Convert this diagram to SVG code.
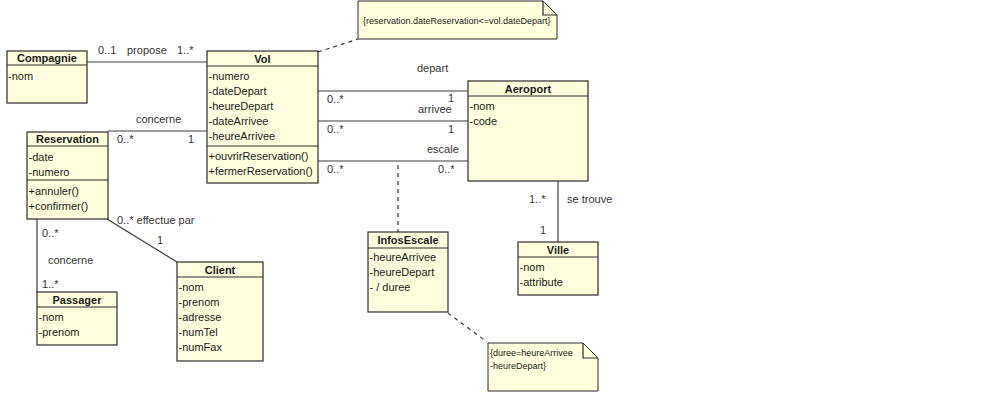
<svg xmlns="http://www.w3.org/2000/svg" width="1000" height="403" viewBox="0 0 1000 403">
  <style>
    text { font-family: "Liberation Sans", Arial, sans-serif; fill: #1a1a1a; }
    .box { fill: #ffffdd; stroke: #2b2b2b; stroke-width: 1.2; }
    .sep { stroke: #2b2b2b; stroke-width: 1.2; fill: none; }
    .name { font-size: 11px; font-weight: bold; text-anchor: middle; }
    .mem { font-size: 11px; }
    .lbl { font-size: 11px; fill: #333; }
    .note { fill: #ffffdd; stroke: #2b2b2b; stroke-width: 1; }
    .ntxt { font-size: 9px; }
    .assoc { stroke: #3a3a3a; stroke-width: 1.2; fill: none; }
    .dash { stroke: #3a3a3a; stroke-width: 1.2; fill: none; stroke-dasharray: 4 4; }
  </style>

  <!-- associations -->
  <g id="connectors">
    <line class="assoc" x1="87" y1="62" x2="207" y2="62"/>
    <line class="assoc" x1="108" y1="131" x2="207" y2="131"/>
    <line class="assoc" x1="318" y1="91" x2="468" y2="91"/>
    <line class="assoc" x1="318" y1="121" x2="468" y2="121"/>
    <line class="assoc" x1="318" y1="161" x2="468" y2="161"/>
    <line class="assoc" x1="558" y1="181" x2="558" y2="242"/>
    <line class="assoc" x1="37" y1="219" x2="37" y2="292"/>
    <line class="assoc" x1="107" y1="219" x2="177" y2="262"/>
    <line class="dash" x1="398" y1="165" x2="398" y2="232"/>
    <line class="dash" x1="318" y1="52" x2="358" y2="39"/>
    <line class="dash" x1="448" y1="313" x2="487" y2="342"/>

    <text class="lbl" x="98" y="54">0..1</text>
    <text class="lbl" x="127" y="54">propose</text>
    <text class="lbl" x="177" y="54">1..*</text>

    <text class="lbl" x="136" y="123">concerne</text>
    <text class="lbl" x="117" y="143">0..*</text>
    <text class="lbl" x="188" y="143">1</text>

    <text class="lbl" x="417" y="72">depart</text>
    <text class="lbl" x="327" y="103">0..*</text>
    <text class="lbl" x="448" y="102">1</text>
    <text class="lbl" x="418" y="113">arrivee</text>
    <text class="lbl" x="327" y="133">0..*</text>
    <text class="lbl" x="448" y="133">1</text>
    <text class="lbl" x="427" y="153">escale</text>
    <text class="lbl" x="327" y="173">0..*</text>
    <text class="lbl" x="438" y="173">0..*</text>

    <text class="lbl" x="529" y="203">1..*</text>
    <text class="lbl" x="567" y="203">se trouve</text>
    <text class="lbl" x="540" y="234">1</text>

    <text class="lbl" x="42" y="237">0..*</text>
    <text class="lbl" x="48" y="264">concerne</text>
    <text class="lbl" x="42" y="288">1..*</text>

    <text class="lbl" x="117" y="224">0..* effectue par</text>
    <text class="lbl" x="157" y="244">1</text>
  </g>

  <g id="compagnie">
    <rect class="box" x="7" y="51" width="80" height="52"/>
    <line class="sep" x1="7" y1="65" x2="87" y2="65"/>
    <text class="name" x="47" y="62">Compagnie</text>
    <text class="mem" x="8" y="80">-nom</text>
  </g>

  <g id="vol">
    <rect class="box" x="207" y="51" width="111" height="132"/>
    <line class="sep" x1="207" y1="66" x2="318" y2="66"/>
    <line class="sep" x1="207" y1="146" x2="318" y2="146"/>
    <text class="name" x="262.5" y="63">Vol</text>
    <text class="mem" x="208.5" y="80">-numero</text>
    <text class="mem" x="208.5" y="95">-dateDepart</text>
    <text class="mem" x="208.5" y="110">-heureDepart</text>
    <text class="mem" x="208.5" y="125">-dateArrivee</text>
    <text class="mem" x="208.5" y="140">-heureArrivee</text>
    <text class="mem" x="208.5" y="160">+ouvrirReservation()</text>
    <text class="mem" x="208.5" y="175">+fermerReservation()</text>
  </g>

  <g id="reservation">
    <rect class="box" x="27" y="132" width="81" height="87"/>
    <line class="sep" x1="27" y1="146" x2="108" y2="146"/>
    <line class="sep" x1="27" y1="180" x2="108" y2="180"/>
    <text class="name" x="67.5" y="143">Reservation</text>
    <text class="mem" x="28.5" y="161">-date</text>
    <text class="mem" x="28.5" y="175.5">-numero</text>
    <text class="mem" x="28.5" y="195">+annuler()</text>
    <text class="mem" x="28.5" y="209.5">+confirmer()</text>
  </g>

  <g id="passager">
    <rect class="box" x="37" y="292" width="80" height="53"/>
    <line class="sep" x1="37" y1="307" x2="117" y2="307"/>
    <text class="name" x="77" y="304">Passager</text>
    <text class="mem" x="38.5" y="321">-nom</text>
    <text class="mem" x="38.5" y="336">-prenom</text>
  </g>

  <g id="client">
    <rect class="box" x="177" y="262" width="86" height="99"/>
    <line class="sep" x1="177" y1="277" x2="263" y2="277"/>
    <text class="name" x="220" y="274">Client</text>
    <text class="mem" x="178.5" y="291">-nom</text>
    <text class="mem" x="178.5" y="306">-prenom</text>
    <text class="mem" x="178.5" y="321">-adresse</text>
    <text class="mem" x="178.5" y="336">-numTel</text>
    <text class="mem" x="178.5" y="351">-numFax</text>
  </g>

  <g id="aeroport">
    <rect class="box" x="468" y="81" width="120" height="100"/>
    <line class="sep" x1="468" y1="96" x2="588" y2="96"/>
    <text class="name" x="528" y="93">Aeroport</text>
    <text class="mem" x="469.5" y="110">-nom</text>
    <text class="mem" x="469.5" y="125">-code</text>
  </g>

  <g id="ville">
    <rect class="box" x="518" y="242" width="80" height="53"/>
    <line class="sep" x1="518" y1="257" x2="598" y2="257"/>
    <text class="name" x="558" y="254">Ville</text>
    <text class="mem" x="519.5" y="271">-nom</text>
    <text class="mem" x="519.5" y="286">-attribute</text>
  </g>

  <g id="infosescale">
    <rect class="box" x="368" y="232" width="80" height="80"/>
    <line class="sep" x1="368" y1="248" x2="448" y2="248"/>
    <text class="name" x="408" y="244">InfosEscale</text>
    <text class="mem" x="369.5" y="261">-heureArrivee</text>
    <text class="mem" x="369.5" y="276">-heureDepart</text>
    <text class="mem" x="369.5" y="291">- / duree</text>
  </g>

  <g id="note-reservation">
    <path class="note" d="M358 1 H543 L557 15 V39 H358 Z"/>
    <path class="sep" d="M543 1 V15 H557" stroke-width="1"/>
    <text class="ntxt" x="363" y="24">{reservation.dateReservation&lt;=vol.dateDepart}</text>
  </g>

  <g id="note-duree">
    <path class="note" d="M488 343 H583 L598 358 V391 H488 Z"/>
    <path class="sep" d="M583 343 V358 H598" stroke-width="1"/>
    <text class="ntxt" x="490" y="356">{duree=heureArrivee</text>
    <text class="ntxt" x="490" y="369">-heureDepart}</text>
  </g>
</svg>
